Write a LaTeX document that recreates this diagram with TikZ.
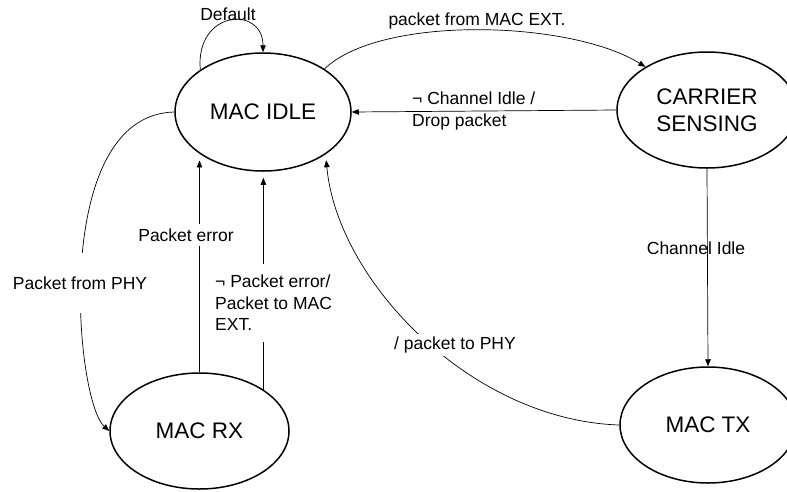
\documentclass[tikz,border=0pt]{standalone}
\usepackage{fontspec}
\setmainfont{Liberation Sans}
\usetikzlibrary{shapes.geometric,arrows.meta}
\begin{document}
\begin{tikzpicture}[x=1pt,y=-1pt,
  state/.style={ellipse,draw,line width=1.5pt,inner sep=0pt,align=center,
    font=\fontsize{22.5}{27}\selectfont},
  conn/.style={line width=0.7pt,-{Triangle[length=7pt,width=5.5pt]}},
  lbl/.style={font=\fontsize{17.5}{21.5}\selectfont,inner sep=1pt},
  gap/.style={fill=white}
]
\fill[white] (0,0) rectangle (787,491);
\clip (0,0) rectangle (787,491);

\node[state,minimum width=176pt,minimum height=118pt] (idle) at (263,112) {MAC IDLE};
\node[state,minimum width=180pt,minimum height=116pt] (cs) at (707,110) {CARRIER\\SENSING};
\node[state,minimum width=176pt,minimum height=116pt] (tx) at (708,425) {MAC TX};
\node[state,minimum width=179pt,minimum height=116pt] (rx) at (199.5,431) {MAC RX};

% Default self loop
\draw[conn] (idle.146) .. controls (195,10) and (263,5) .. (idle.north);
\node[lbl] (ldef) at (228,14) {Default};

% packet from MAC EXT.
\draw[conn] (idle.35) .. controls (380,15) and (570,20) .. (cs.145);
\node[lbl] (lext) at (477,21) {packet from MAC EXT.};

% not channel idle / drop packet
\draw[conn] (cs.west) -- (idle.east);
\node[lbl,anchor=west,align=left] (ldrop) at (411,111) {¬ Channel Idle /\\Drop packet};

% Channel idle
\draw[conn] (cs.south) -- (tx.north);
\node[lbl] (lci) at (696,248) {Channel Idle};

% / packet to PHY
\draw[conn,shorten >=6pt] (tx.west) .. controls (470,420) and (337,280) .. (idle.-34);
\node[lbl,gap,inner sep=3pt] (lphy) at (455,345) {/ packet to PHY};

% Packet from PHY
\draw[conn] (idle.west) .. controls (50,115) and (75,400) .. (rx.west);
\node[lbl,gap,inner ysep=24pt,inner xsep=2pt] (lfrom) at (80,283) {Packet from PHY};

% Packet error
\draw[conn,shorten >=7pt] (rx.north) -- (rx.north |- idle.-147);
\node[lbl,gap,inner ysep=5pt,inner xsep=2pt] (lerr) at (186,235) {Packet error};

% not packet error / packet to MAC EXT.
\draw[conn,shorten >=6pt] (rx.33) -- (rx.33 |- idle.south);
\node[lbl,gap,anchor=west,align=left,inner ysep=11pt,inner xsep=2pt] (lok) at (213,303) {¬ Packet error/\\Packet to MAC\\EXT.};
\end{tikzpicture}
\end{document}
